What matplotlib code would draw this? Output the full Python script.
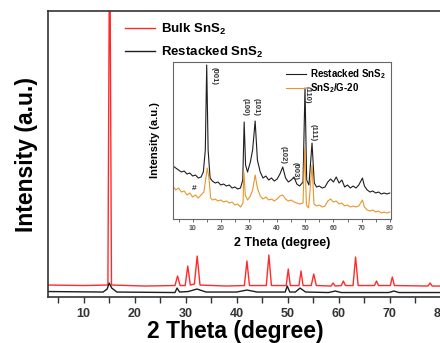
import matplotlib
matplotlib.use("Agg")
import matplotlib.pyplot as plt
from matplotlib.ticker import MultipleLocator, FuncFormatter

plt.rcParams['font.family'] = ['Liberation Sans', 'DejaVu Sans']
plt.rcParams['font.weight'] = 'bold'
plt.rcParams['mathtext.fontset'] = 'custom'
plt.rcParams['mathtext.rm'] = 'Liberation Sans:bold'
plt.rcParams['mathtext.bf'] = 'Liberation Sans:bold'
plt.rcParams['mathtext.default'] = 'bf'

#%% main pattern: bulk SnS2 (red) and restacked SnS2 (black)
bulk_tt = [3, 10, 14.75, 15.1, 15.45, 22, 27.9, 28.4, 28.9, 29.9, 30.4, 30.9, 31.7, 32.25, 32.8,
           38, 41.5, 42.0, 42.5, 45.8, 46.3, 46.8, 49.7, 50.1, 50.5, 52.2, 52.6, 53.0,
           54.6, 55.1, 55.6, 58.5, 58.9, 59.3, 60.5, 60.9, 61.3, 62.8, 63.3, 63.8,
           67.0, 67.4, 67.8, 70.1, 70.5, 70.9, 77.5, 77.9, 78.3, 82]
bulk_int = [12, 11.5, 12, 400, 12, 11, 11.5, 21, 11.5, 11.5, 31, 12, 13, 41, 12,
            11, 11.5, 36, 11.5, 11.5, 42, 11.5, 11.5, 28, 11.5, 11.5, 26, 11.5,
            11.5, 23, 11.5, 11, 14, 11, 11.5, 16, 11.5, 11.5, 40, 11.5,
            11.5, 16, 11.5, 11.5, 20, 11.5, 11, 14, 11, 11]

rest_tt = [3, 13.8, 14.6, 15.0, 15.5, 16.5, 27.9, 28.3, 28.8, 30.5, 32.2, 34.0, 40, 42, 44,
           49.5, 49.9, 50.4, 51.5, 52.4, 53.5, 58, 59.3, 60.5, 69.8, 70.8, 71.8, 82]
rest_int = [5.5, 5, 8, 14, 9, 5, 4.5, 9, 5, 5.5, 8, 5, 5, 7, 5,
            5, 11, 5, 5, 9, 5, 4.5, 6, 4.5, 4.5, 6, 4.5, 4.5]

#%% inset: restacked SnS2 (black) and SnS2/G-20 (orange)
ins_rest_tt = [3, 4, 5, 6, 7, 8, 9, 10, 11, 12, 13, 13.8, 14.5, 15.0, 15.5, 16.2, 17, 18, 19, 20,
               21, 22, 23, 24, 25, 26, 27, 27.8, 28.3, 28.8, 29.5, 30.5, 31.3, 32.2, 33, 34,
               35, 36, 37, 38, 39, 40, 41, 42, 43, 44, 45, 46, 47, 48, 49.2, 49.9, 50.5,
               51.3, 52.4, 53.2, 54, 55, 56, 57, 58, 59, 60, 61, 62, 63, 64, 65, 66, 67,
               68, 69, 70.3, 71, 72, 73, 74, 75, 76, 77, 78, 79, 80]
ins_rest_int = [53, 51, 49, 47, 48, 45, 46, 43, 44, 41, 42, 47, 69, 154, 69, 41, 38, 36, 37, 34,
                35, 33, 34, 31, 32, 30, 31, 39, 97, 54, 47, 57, 69, 98, 59, 47,
                41, 43, 39, 41, 38, 40, 45, 52, 41, 37, 39, 42, 35, 33, 37, 131, 39,
                34, 76, 36, 32, 33, 31, 32, 37, 40, 37, 42, 36, 39, 32, 34, 31, 33,
                31, 34, 41, 33, 29, 27, 28, 26, 27, 25, 26, 25, 26]

ins_g20_tt = [3, 4, 5, 6, 7, 8, 9, 10, 11, 12, 13, 14, 15.2, 15.8, 16.4, 17, 18, 19, 20, 21,
              22, 23, 24, 25, 26, 27, 27.9, 28.2, 28.7, 29.5, 30.5, 31.3, 32.2, 33, 34, 35,
              36, 37, 38, 39, 40, 41, 42, 43, 44, 45, 46, 47, 48, 49.2, 49.8, 50.4, 51.2,
              52.4, 53.1, 54, 55, 56, 57, 58, 59, 60, 61, 62, 63, 64, 65, 66, 67, 68,
              69, 70.3, 71, 72, 73, 74, 75, 76, 77, 78, 79, 80]
ins_g20_int = [33, 29, 31, 27, 28, 24, 26, 22, 24, 21, 24, 27, 51, 41, 21, 19, 20, 18, 19, 17,
               18, 16, 17, 14, 15, 12, 16, 47, 24, 19, 23, 29, 44, 31, 23, 20,
               22, 19, 20, 18, 20, 23, 24, 20, 18, 19, 17, 16, 15, 16, 71, 14, 11,
               54, 15, 13, 14, 12, 13, 18, 20, 17, 18, 15, 16, 13, 14, 12, 13, 12,
               13, 19, 12, 9, 8, 9, 7, 8, 6, 7, 6, 7]

peak_labels = ['(001)', '(100)', '(101)', '(102)', '(003)', '(110)', '(111)']
peak_label_tt = [17.8, 28.6, 32.6, 42.1, 46.4, 50.7, 52.9]
peak_label_y = [143, 112, 112, 64, 48, 124, 86]

RED = '#ff2b2b'
ORANGE = '#e8962a'
DARK = '#1e1e1e'


def main():
    fig = plt.figure(figsize=(4.4, 3.43), dpi=100)
    ax = fig.add_axes([0.109, 0.134, 0.916, 0.834])

    ax.plot(bulk_tt, bulk_int, color=RED, lw=1.0, label='Bulk SnS$_2$')
    ax.plot(rest_tt, rest_int, color=DARK, lw=1.0, label='Restacked SnS$_2$')
    ax.set_xlim(3, 82)
    ax.set_ylim(0, 286)
    ax.set_yticks([])
    ax.xaxis.set_major_locator(MultipleLocator(10))
    ax.xaxis.set_minor_locator(MultipleLocator(5))
    ax.tick_params(axis='x', which='both', direction='out', length=4, width=1.0,
                   colors='#333333', labelsize=9, pad=4)
    for sp in ax.spines.values():
        sp.set_color('#333333')
        sp.set_linewidth(1.2)
    for lab in ax.get_xticklabels():
        lab.set_fontweight('bold')

    ax.text(0.464, -0.12, '2 Theta (degree)', transform=ax.transAxes,
            ha='center', va='center', fontsize=16.5, fontweight='bold')
    fig.text(0.061, 0.551, 'Intensity (a.u.)', rotation=90, ha='center', va='center',
             fontsize=16.5, fontweight='bold')

    leg = ax.legend(loc='upper left', bbox_to_anchor=(0.165, 1.0), frameon=False,
                    fontsize=9.5, handlelength=2.3, handletextpad=0.4, labelspacing=0.6,
                    borderaxespad=0.4)
    for t in leg.get_texts():
        t.set_fontweight('bold')

    #%% inset
    ins = fig.add_axes([0.393, 0.3615, 0.496, 0.4577])
    ins.plot(ins_rest_tt, ins_rest_int, color=DARK, lw=0.8, label='Restacked SnS$_2$')
    ins.plot(ins_g20_tt, ins_g20_int, color=ORANGE, lw=0.8, label='SnS$_2$/G-20')
    ins.set_xlim(3, 80.5)
    ins.set_ylim(0, 157)
    ins.set_yticks([])
    ins.xaxis.set_major_locator(MultipleLocator(10))
    ins.xaxis.set_minor_locator(MultipleLocator(5))
    ins.xaxis.set_major_formatter(FuncFormatter(lambda v, p: '' if v < 10 else f'{v:.0f}'))
    ins.tick_params(axis='x', which='both', direction='out', length=2, width=0.6,
                    colors='#555555', labelsize=5, pad=2)
    for sp in ins.spines.values():
        sp.set_color('#666666')
        sp.set_linewidth(0.8)
    ins.set_xlabel('2 Theta (degree)', fontsize=9, fontweight='bold', labelpad=4)
    ins.set_ylabel('Intensity (a.u.)', fontsize=8, fontweight='bold', labelpad=9)

    for lab, x, y in zip(peak_labels, peak_label_tt, peak_label_y):
        ins.text(x, y, lab, rotation=270, ha='center', va='center', fontsize=5.5,
                 fontweight='bold', color='#333333')
    ins.text(10.4, 31, '#', ha='center', va='center', fontsize=6, fontweight='bold',
             color='#333333')

    ileg = ins.legend(loc='upper right', frameon=False, fontsize=7, handlelength=2.0,
                      handletextpad=0.4, labelspacing=0.05, borderaxespad=0.15)
    for t in ileg.get_texts():
        t.set_fontweight('bold')

    fig.savefig('out.png', dpi=100)


if __name__ == "__main__":
    main()
